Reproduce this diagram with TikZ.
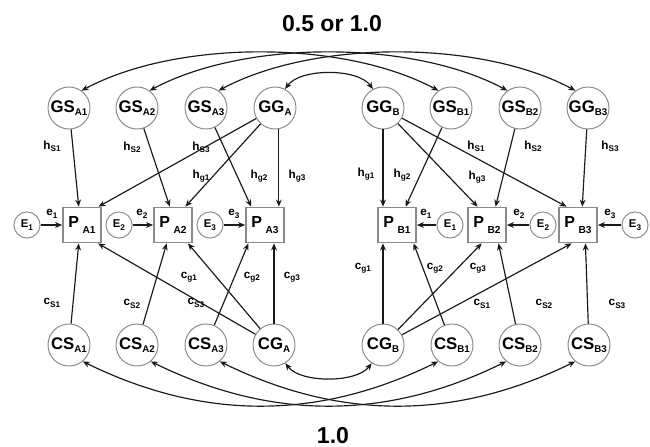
\documentclass[tikz,border=0pt]{standalone}
\usepackage{fontspec}
\setmainfont{Liberation Sans}
\usetikzlibrary{arrows.meta}
\definecolor{LineDark}{HTML}{1A1A1A}
\definecolor{RimGray}{HTML}{8A8A8A}
\newcommand{\nm}[2]{#1\raisebox{-1.3pt}{\fontsize{5}{5}\selectfont #2}}
\newcommand{\pbox}[1]{P\hspace{1.8pt}\raisebox{-3.2pt}{\fontsize{5.2}{5}\selectfont #1}}
\newcommand{\cf}[2]{#1\raisebox{-1.2pt}{\fontsize{4.2}{4}\selectfont #2}}
\tikzset{>={Stealth[length=3.6pt,width=3pt]},every node/.style={font=\bfseries},
 latent/.style={circle,draw=RimGray,line width=.5pt,minimum size=7.56mm,inner sep=0pt,
 font=\fontsize{8.6}{9}\selectfont\bfseries},
 resid/.style={circle,draw=RimGray,line width=.5pt,minimum size=4.7mm,inner sep=0pt,
 font=\fontsize{5.8}{6}\selectfont\bfseries},
 pheno/.style={rectangle,draw=RimGray,line width=.9pt,minimum width=6.84mm,
 minimum height=6.3mm,inner sep=0pt,font=\fontsize{8.2}{9}\selectfont\bfseries},
 coef/.style={inner sep=0pt,font=\fontsize{6}{6}\selectfont\bfseries},
 title/.style={font=\fontsize{11.8}{12}\selectfont\bfseries},
 link/.style={draw=LineDark,line width=.6pt,->},corr/.style={draw=LineDark,line width=.6pt,<->}}
\begin{document}
\begin{tikzpicture}[x=.18mm,y=-.18mm]
\useasboundingbox (0,0) rectangle (650,446);
\node[title] (topnum) at (332,24) {0.5 or 1.0};
\node[title] (botnum) at (333,436) {1.0};
% genetic factors
\foreach \id/\x/\a/\b in {GSA1/69/GS/A1,GSA2/137/GS/A2,GSA3/206/GS/A3,GGA/275/GG/A,
 GGB/383/GG/B,GSB1/451/GS/B1,GSB2/520/GS/B2,GSB3/588/GG/B3}
 \node[latent] (\id) at (\x,108) {\nm{\a}{\b}};
% environment factors
\foreach \id/\x/\a/\b in {CSA1/69/CS/A1,CSA2/137/CS/A2,CSA3/206/CS/A3,CGA/274/CG/A,
 CGB/383/CG/B,CSB1/452/CS/B1,CSB2/520/CS/B2,CSB3/589/CS/B3}
 \node[latent] (\id) at (\x,345) {\nm{\a}{\b}};
% phenotypes and residuals
\foreach \id/\x/\b in {PA1/82/A1,PA2/173/A2,PA3/265/A3,PB1/397/B1,PB2/487/B2,PB3/578/B3}
 \node[pheno] (\id) at (\x,225) {\pbox{\b}};
\foreach \id/\x/\b in {EA1/27/1,EA2/119/2,EA3/210/3,EB1/450/1,EB2/543/2,EB3/635/3}
 \node[resid] (\id) at (\x,225) {\cf{E}{\b}};
\foreach \s/\d in {EA1/PA1,EA2/PA2,EA3/PA3,EB1/PB1,EB2/PB2,EB3/PB3} \draw[link] (\s) -- (\d);
% paths from above
\foreach \s/\d in {GSA1/PA1.100,GSA2/PA2.100,GSA3/PA3.127,GGA/PA1.48,GGA/PA2.56,
 GGB/PB2.117,GGB/PB3.122,GSB1/PB1.65,GSB2/PB2.65,GSB3/PB3.77}
 \draw[link] (\s) -- (\d);
\draw[link] (GGA.south -| PA3.53) -- (PA3.53);
\draw[link] (GGB.south) -- (GGB.south |- PB1.north);
% paths from below
\foreach \s/\d in {CSA1/PA1.260,CSA2/PA2.251,CSA3/PA3.228,CGA/PA1.311,CGA/PA2.309,
 CGB/PB2.254,CGB/PB3.251,CSB1/PB1.312,CSB2/PB2.302,CSB3/PB3.292}
 \draw[link] (\s) -- (\d);
\draw[link] (CGA.north) -- (CGA.north |- PA3.south);
\draw[link] (CGB.north) -- (CGB.north |- PB1.south);
% twin correlations
\foreach \s/\d in {GSA1/GSB1,GSA2/GSB2,GSA3/GSB3}
 \draw[corr] (\s.54) .. controls +(95,-51) and +(-95,-51) .. (\d.126);
\draw[corr] (GGA.62) .. controls +(15,-21) and +(-15,-21) .. (GGB.118);
\foreach \s/\d in {CSA1/CSB1,CSA2/CSB2,CSA3/CSB3}
 \draw[corr] (\s.-50) .. controls +(120,59) and +(-120,59) .. (\d.-130);
\draw[corr] (CGA.-58) .. controls +(15,20) and +(-15,20) .. (CGB.-122);
% coefficients
\foreach \id/\x/\y/\ltr/\sbs in {hSa1/52/146/h/S1,hSa2/132/147/h/S2,hSa3/201/147/h/S3,
 hga1/201/176/h/g1,hga2/259/176/h/g2,hga3/297/176/h/g3,hgb1/366/174/h/g1,hgb2/402/175/h/g2,
 hgb3/477/177/h/g3,hSb1/476/146/h/S1,hSb2/533/146/h/S2,hSb3/610/146/h/S3,
 ea1/52/214/e/1,ea2/142/214/e/2,ea3/234/214/e/3,eb1/426/214/e/1,eb2/519/214/e/2,eb3/610/214/e/3,
 cga1/189/277/c/g1,cga2/252/277/c/g2,cga3/292/277/c/g3,cSa1/52/303/c/S1,cSa2/132/304/c/S2,
 cSa3/196/303/c/S3,cgb1/363/268/c/g1,cgb2/435/268/c/g2,cgb3/478/268/c/g3,
 cSb1/482/304/c/S1,cSb2/544/304/c/S2,cSb3/617/304/c/S3}
 \node[coef] (\id) at (\x,\y) {\cf{\ltr}{\sbs}};
\end{tikzpicture}
\end{document}
